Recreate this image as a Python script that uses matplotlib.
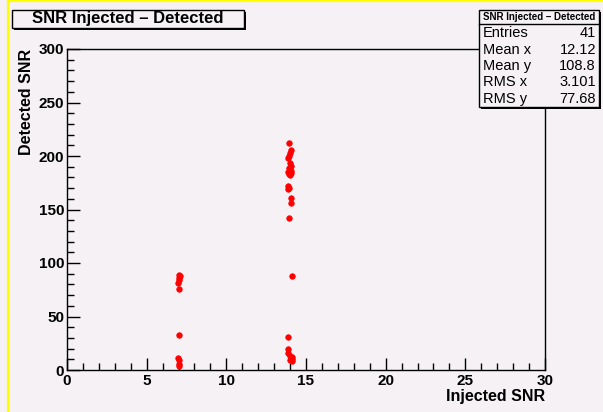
import matplotlib.pyplot as plt
from matplotlib.patches import Rectangle
from matplotlib.lines import Line2D
from matplotlib.ticker import MultipleLocator

plt.rcParams['font.family'] = ['Liberation Sans', 'DejaVu Sans']

# datos
x_bajo = [7.05, 7.10, 7.00, 7.05, 6.98, 7.00, 7.00, 6.98, 7.02, 7.00, 7.05]
y_bajo = [89, 88, 86, 84, 81, 76, 33, 11, 9, 6, 4]

x_alto = [13.95, 14.05, 14.0, 13.95, 13.9, 14.0, 14.05, 13.95, 14.0, 14.05,
          13.9, 14.05, 13.95, 14.0, 13.9, 13.95, 13.9, 14.05, 14.05, 13.95,
          14.1, 13.85, 13.9, 13.9, 14.0, 14.1, 14.05, 14.15, 14.0, 14.1]
y_alto = [212, 206, 203, 200, 198, 193, 191, 189, 187, 186,
          185, 184, 183, 182, 172, 170, 169, 161, 156, 142,
          88, 31, 20, 16, 13, 12, 11, 10, 9, 8]

stats_nombres = ['Entries', 'Mean x', 'Mean y', 'RMS x', 'RMS y']
stats_valores = ['41', '12.12', '108.8', '3.101', '77.68']

fondo = '#f5f1f5'
W, H = 603, 412

fig = plt.figure(figsize=(W / 100, H / 100), dpi=100, facecolor=fondo)


def px(x, y):
    # pixeles -> coordenadas de figura
    return x / W, 1 - y / H


# marco amarillo del canvas
fig.add_artist(Line2D([8 / W, 8 / W], [0, 1], color='#ffff00', lw=1.6))
fig.add_artist(Line2D([8 / W, 1], [1 - 1 / H, 1 - 1 / H], color='#ffff00', lw=1.6))

x0, y0 = px(67, 370)
x1, y1 = px(545, 49)
ax = fig.add_axes([x0, y0, x1 - x0, y1 - y0], facecolor=fondo)

ax.plot(x_bajo + x_alto, y_bajo + y_alto, 'o', color='red', ms=4, mec='red', mew=0.5,
        clip_on=False)

ax.set_xlim(0, 30)
ax.set_ylim(0, 300)
ax.xaxis.set_major_locator(MultipleLocator(5))
ax.xaxis.set_minor_locator(MultipleLocator(1))
ax.yaxis.set_major_locator(MultipleLocator(50))
ax.yaxis.set_minor_locator(MultipleLocator(10))
ax.tick_params(which='both', direction='in', top=False, right=False, width=1, color='black')
ax.tick_params(which='major', length=9, labelsize=11, pad=3)
ax.tick_params(which='minor', length=5)
ax.tick_params(axis='y', pad=2)
for lab in ax.get_xticklabels() + ax.get_yticklabels():
    lab.set_fontweight('bold')
for s in ax.spines.values():
    s.set_linewidth(1)

fig.text(545 / W, 1 - 396 / H, 'Injected SNR', ha='right', va='center',
         fontsize=11.5, fontweight='bold')
fig.text(27 / W, 1 - 49 / H, 'Detected SNR', ha='center', va='top', rotation=90,
         fontsize=11.5, fontweight='bold')


def caja(xa, ya, xb, yb):
    # caja con sombra estilo ROOT
    fig.add_artist(Rectangle(px(xa + 2, yb + 2), (xb - xa) / W, (yb - ya) / H,
                             transform=fig.transFigure, facecolor='black',
                             edgecolor='black', lw=0, zorder=5))
    fig.add_artist(Rectangle(px(xa, yb), (xb - xa) / W, (yb - ya) / H,
                             transform=fig.transFigure, facecolor=fondo,
                             edgecolor='black', lw=1, zorder=6))


# titulo
caja(12, 10, 244, 28)
fig.text(*px(128, 19), 'SNR Injected \u2013 Detected', ha='center', va='center',
         fontsize=12, fontweight='bold', zorder=7)

# caja de estadisticas
caja(479, 10, 599, 107)
fig.add_artist(Line2D([479 / W, 599 / W], [1 - 24 / H] * 2, color='black', lw=1, zorder=7))
fig.text(*px(539, 17.5), 'SNR Injected \u2013 Detected', ha='center', va='center',
         fontsize=7, fontweight='bold', zorder=7)
for i, (n, v) in enumerate(zip(stats_nombres, stats_valores)):
    yy = 33 + i * 16.5
    fig.text(*px(483, yy), n, ha='left', va='center', fontsize=10.5, zorder=7)
    fig.text(*px(596, yy), v, ha='right', va='center', fontsize=10.5, zorder=7)

fig.savefig('out.png', dpi=100, facecolor=fondo)
